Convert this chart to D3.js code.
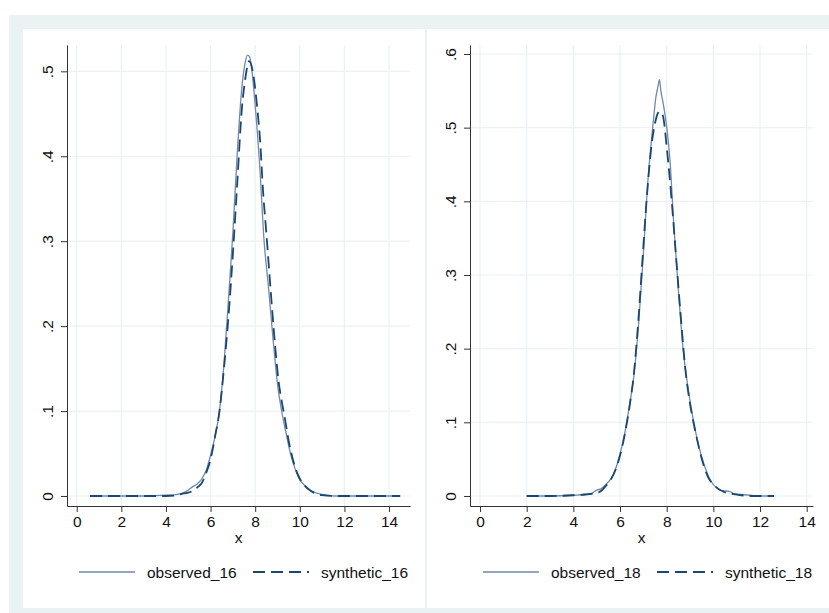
<!DOCTYPE html>
<html>
<head>
<meta charset="utf-8">
<script src="https://cdn.jsdelivr.net/npm/d3@7"></script>
<style>
  body { margin: 0; background: #fff; }
  svg { display: block; font-family: "Liberation Sans", Arial, sans-serif; }
</style>
</head>
<body>
<div id="chart"></div>
<script>
// kernel density estimates
const obs16X = [0.6, 1, 2, 3, 4, 4.5, 4.8, 5.0, 5.2, 5.4, 5.6, 5.8, 6.0, 6.2, 6.4, 6.6, 6.8, 7.0, 7.2, 7.4, 7.55, 7.65, 7.75, 7.85, 8.0, 8.2, 8.4, 8.6, 8.8, 9.0, 9.2, 9.4, 9.6, 9.8, 10.0, 10.2, 10.4, 10.6, 10.8, 11.2, 11.6, 12, 13, 14, 14.5];
const obs16Y = [0, 0, 0, 0, 0.001, 0.002, 0.004, 0.007, 0.011, 0.014, 0.02, 0.03, 0.048, 0.07, 0.1, 0.155, 0.23, 0.31, 0.405, 0.48, 0.51, 0.519, 0.517, 0.502, 0.46, 0.39, 0.3, 0.245, 0.185, 0.132, 0.098, 0.072, 0.048, 0.031, 0.019, 0.013, 0.008, 0.005, 0.003, 0.001, 0, 0, 0, 0, 0];
const syn16X = [0.6, 1, 2, 3, 4, 4.5, 4.8, 5.0, 5.2, 5.4, 5.6, 5.8, 6.0, 6.2, 6.4, 6.6, 6.8, 7.0, 7.2, 7.4, 7.55, 7.73, 7.85, 7.95, 8.1, 8.22, 8.35, 8.5, 8.7, 8.9, 9.04, 9.2, 9.34, 9.5, 9.7, 9.9, 10.1, 10.3, 10.5, 10.7, 11, 11.5, 12, 13, 14, 14.5];
const syn16Y = [0, 0, 0, 0, 0, 0.001, 0.003, 0.004, 0.006, 0.01, 0.015, 0.027, 0.043, 0.07, 0.1, 0.15, 0.21, 0.285, 0.37, 0.455, 0.49, 0.512, 0.505, 0.49, 0.455, 0.419, 0.36, 0.31, 0.24, 0.175, 0.137, 0.11, 0.09, 0.065, 0.042, 0.026, 0.016, 0.01, 0.006, 0.003, 0.001, 0, 0, 0, 0, 0];

const obs18X = [2, 3, 4, 4.5, 4.8, 5.0, 5.2, 5.4, 5.6, 5.8, 6.0, 6.2, 6.4, 6.6, 6.8, 7.0, 7.2, 7.4, 7.54, 7.62, 7.69, 7.75, 7.86, 8.0, 8.14, 8.3, 8.5, 8.7, 8.9, 9.1, 9.3, 9.5, 9.7, 9.9, 10.1, 10.3, 10.5, 10.7, 10.9, 11.2, 11.6, 12, 12.6];
const obs18Y = [0, 0, 0.001, 0.002, 0.004, 0.008, 0.01, 0.016, 0.023, 0.036, 0.057, 0.085, 0.122, 0.165, 0.235, 0.329, 0.43, 0.5, 0.542, 0.555, 0.565, 0.55, 0.531, 0.501, 0.456, 0.37, 0.28, 0.2, 0.15, 0.11, 0.078, 0.053, 0.034, 0.02, 0.012, 0.008, 0.007, 0.006, 0.003, 0.002, 0.001, 0, 0];
const syn18X = [2, 3, 4, 4.5, 4.8, 5.0, 5.2, 5.4, 5.6, 5.8, 6.0, 6.2, 6.4, 6.6, 6.8, 6.97, 7.14, 7.36, 7.5, 7.6, 7.69, 7.78, 7.86, 8.0, 8.21, 8.4, 8.6, 8.8, 9.0, 9.2, 9.4, 9.6, 9.8, 10.0, 10.2, 10.5, 10.8, 11.2, 11.6, 12.6];
const syn18Y = [0, 0, 0.001, 0.002, 0.003, 0.004, 0.007, 0.014, 0.022, 0.035, 0.055, 0.083, 0.12, 0.168, 0.245, 0.325, 0.402, 0.479, 0.506, 0.518, 0.522, 0.52, 0.513, 0.474, 0.402, 0.325, 0.245, 0.172, 0.125, 0.092, 0.063, 0.04, 0.024, 0.016, 0.01, 0.005, 0.003, 0.001, 0, 0];

const xTicks = [0, 2, 4, 6, 8, 10, 12, 14];
const yTicks16 = [0, 0.1, 0.2, 0.3, 0.4, 0.5];
const yTicks18 = [0, 0.1, 0.2, 0.3, 0.4, 0.5, 0.6];
const seriesNames16 = ["observed_16", "synthetic_16"];
const seriesNames18 = ["observed_18", "synthetic_18"];

const width = 829, height = 613;
const frameColor = "#eaf2f3";
const obsColor = "#7189aa";
const synColor = "#1a476f";
const fontSize = 15.5;

const svg = d3.select("#chart").append("svg")
  .attr("width", width)
  .attr("height", height);

svg.append("rect").attr("width", width).attr("height", height).attr("fill", "#fff");
svg.append("rect").attr("x", 9).attr("y", 15).attr("width", width - 9).attr("height", height - 15).attr("fill", frameColor);
svg.append("rect").attr("x", 23).attr("y", 29).attr("width", 402).attr("height", 579).attr("fill", "#fff");
svg.append("rect").attr("x", 427).attr("y", 29).attr("width", 402).attr("height", 579).attr("fill", "#fff");

const fmt = d => d === 0 ? "0" : d3.format(".1f")(d).replace(/^0/, "");

function drawPanel(opts) {
  const { left, right, top, bottom, xDomain, yDomain, yTicks, obsX, obsY, synX, synY, names } = opts;
  const x = d3.scaleLinear().domain(xDomain).range([left, right]);
  const y = d3.scaleLinear().domain(yDomain).range([bottom, top]);
  const g = svg.append("g");

  // grid
  g.selectAll(".vgrid").data(xTicks).join("line")
    .attr("x1", d => x(d)).attr("x2", d => x(d))
    .attr("y1", top).attr("y2", bottom)
    .attr("stroke", frameColor).attr("stroke-width", 1.2);
  g.selectAll(".hgrid").data(yTicks).join("line")
    .attr("x1", left).attr("x2", right)
    .attr("y1", d => y(d)).attr("y2", d => y(d))
    .attr("stroke", frameColor).attr("stroke-width", 1.2);

  // axes
  const xAxis = g.append("g")
    .attr("transform", `translate(0,${bottom})`)
    .call(d3.axisBottom(x).tickValues(xTicks).tickSize(6).tickPadding(4).tickSizeOuter(0));
  xAxis.select(".domain").attr("stroke", "#333");
  xAxis.selectAll(".tick line").attr("stroke", "#333");
  xAxis.selectAll("text").attr("font-size", fontSize).attr("fill", "#111").attr("font-family", null);

  const yAxis = g.append("g")
    .attr("transform", `translate(${left},0)`)
    .call(d3.axisLeft(y).tickValues(yTicks).tickFormat(fmt).tickSize(6).tickSizeOuter(0));
  yAxis.select(".domain").attr("stroke", "#333");
  yAxis.selectAll(".tick line").attr("stroke", "#333");
  yAxis.selectAll("text")
    .attr("font-size", fontSize).attr("fill", "#111").attr("font-family", null)
    .attr("x", null).attr("dy", null)
    .attr("text-anchor", "middle")
    .attr("transform", "translate(-14.5,0) rotate(-90)");

  g.append("text")
    .attr("x", (left + right) / 2).attr("y", bottom + 37)
    .attr("text-anchor", "middle")
    .attr("font-size", fontSize).attr("fill", "#111")
    .text("x");

  const line = d3.line()
    .x(d => x(d[0]))
    .y(d => y(d[1]))
    .curve(d3.curveMonotoneX);

  g.append("path")
    .datum(d3.zip(obsX, obsY))
    .attr("d", line)
    .attr("fill", "none")
    .attr("stroke", obsColor)
    .attr("stroke-width", 1.3);

  g.append("path")
    .datum(d3.zip(synX, synY))
    .attr("d", line)
    .attr("fill", "none")
    .attr("stroke", synColor)
    .attr("stroke-width", 1.8)
    .attr("stroke-dasharray", "12,6");

  // legend
  const ly = 572;
  const lx = opts.legendX;
  g.append("line").attr("x1", lx).attr("x2", lx + 56).attr("y1", ly).attr("y2", ly)
    .attr("stroke", obsColor).attr("stroke-width", 1.3);
  g.append("text").attr("x", lx + 68).attr("y", ly + 6)
    .attr("font-size", fontSize).attr("fill", "#111").text(names[0]);
  g.append("line").attr("x1", lx + 174).attr("x2", lx + 230).attr("y1", ly).attr("y2", ly)
    .attr("stroke", synColor).attr("stroke-width", 1.8).attr("stroke-dasharray", "12,6");
  g.append("text").attr("x", lx + 242).attr("y", ly + 6)
    .attr("font-size", fontSize).attr("fill", "#111").text(names[1]);
}

drawPanel({
  left: 67, right: 410, top: 45, bottom: 506,
  xDomain: [-0.435, 14.94], yDomain: [-0.0118, 0.531],
  yTicks: yTicks16,
  obsX: obs16X, obsY: obs16Y, synX: syn16X, synY: syn16Y,
  names: seriesNames16, legendX: 79
});

drawPanel({
  left: 470, right: 813, top: 45, bottom: 506,
  xDomain: [-0.43, 14.27], yDomain: [-0.0136, 0.6122],
  yTicks: yTicks18,
  obsX: obs18X, obsY: obs18Y, synX: syn18X, synY: syn18Y,
  names: seriesNames18, legendX: 483
});
</script>
</body>
</html>
